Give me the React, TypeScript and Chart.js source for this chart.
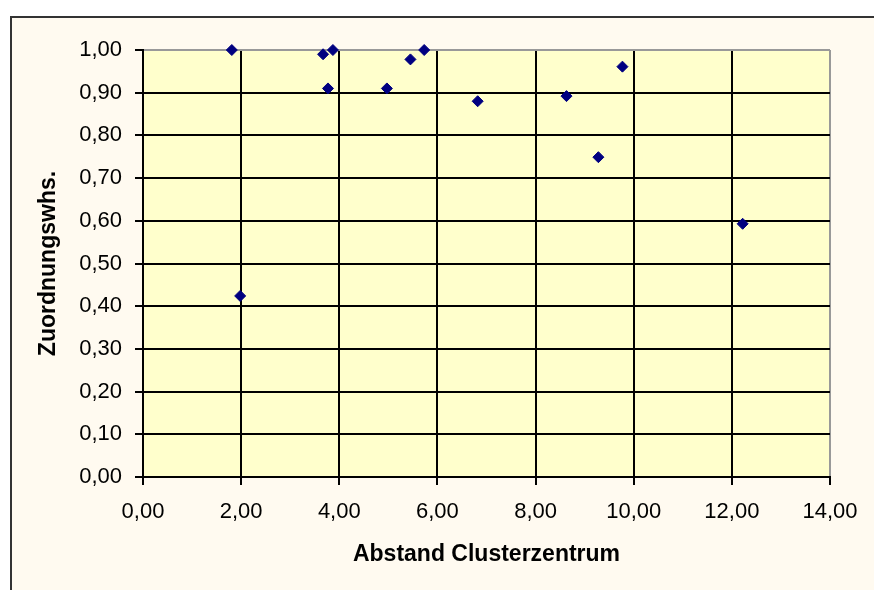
import React, { useEffect, useRef } from "react";
import { Chart, registerables } from "chart.js";

Chart.register(...registerables);

const distances = [1.81, 1.98, 3.67, 3.87, 3.77, 4.97, 5.45, 5.73, 6.82, 8.63, 9.28, 9.77, 12.22];
const probabilities = [1.0, 0.424, 0.99, 1.0, 0.91, 0.91, 0.978, 1.0, 0.88, 0.892, 0.749, 0.961, 0.593];
const xTitle = "Abstand Clusterzentrum";
const yTitle = "Zuordnungswhs.";

const fmt = (v: number) => v.toFixed(2).replace(".", ",");

const bgPlugin = {
  id: "bgPlugin",
  beforeDraw(chart: any) {
    const { ctx, width, height, chartArea } = chart;
    ctx.save();
    ctx.fillStyle = "#ffffff";
    ctx.fillRect(0, 0, width, height);
    ctx.fillStyle = "#FFFAF0";
    ctx.fillRect(11, 17, width, height);
    ctx.strokeStyle = "#333333";
    ctx.lineWidth = 2;
    ctx.beginPath();
    ctx.moveTo(11, height + 5);
    ctx.lineTo(11, 17);
    ctx.lineTo(width + 5, 17);
    ctx.stroke();
    ctx.fillStyle = "#FFFFCC";
    ctx.fillRect(chartArea.left, chartArea.top, chartArea.right - chartArea.left, chartArea.bottom - chartArea.top);
    ctx.restore();
  },
};

export default function App() {
  const ref = useRef<HTMLCanvasElement | null>(null);
  useEffect(() => {
    if (!ref.current) return;
    const font = { family: "'Liberation Sans', Arial, sans-serif", size: 22 };
    const titleFont = { family: "'Liberation Sans', Arial, sans-serif", size: 23, weight: "bold" as const };
    const chart = new Chart(ref.current, {
      type: "scatter",
      data: {
        datasets: [
          {
            data: distances.map((x, i) => ({ x, y: probabilities[i] })),
            pointStyle: "rectRot",
            pointRadius: 5.5,
            pointBorderWidth: 1,
            backgroundColor: "#000080",
            borderColor: "#000080",
            clip: false,
          },
        ],
      },
      options: {
        animation: false,
        responsive: false,
        layout: { padding: { top: 50, right: 44, left: 0, bottom: 0 } },
        plugins: { legend: { display: false }, tooltip: { enabled: false } },
        scales: {
          x: {
            type: "linear",
            min: 0,
            max: 14,
            afterFit: (s: any) => {
              s.height = 113;
            },
            ticks: { stepSize: 2, color: "#000", font, padding: 14, callback: (v: any) => fmt(Number(v)), maxRotation: 0 },
            grid: {
              color: (c: any) => (c.tick && c.tick.value === 14 ? "#999999" : "#000000"),
              lineWidth: 2,
              tickColor: "#000",
              tickLength: 8,
              tickWidth: 2,
            },
            border: { color: "#000", width: 2 },
            title: { display: true, text: xTitle, color: "#000", font: titleFont, padding: { top: 0, bottom: 22 } },
          },
          y: {
            type: "linear",
            min: 0,
            max: 1,
            afterFit: (s: any) => {
              s.width = 143;
            },
            ticks: { stepSize: 0.1, color: "#000", font, padding: 13, callback: (v: any) => fmt(Number(v)) },
            grid: {
              color: (c: any) => (c.tick && Math.abs(c.tick.value - 1) < 1e-9 ? "#999999" : "#000000"),
              lineWidth: 2,
              tickColor: "#000",
              tickLength: 8,
              tickWidth: 2,
            },
            border: { color: "#000", width: 2 },
            title: { display: true, text: yTitle, color: "#000", font: titleFont, padding: { top: 35, bottom: 0 } },
          },
        },
      },
      plugins: [bgPlugin],
    });
    return () => chart.destroy();
  }, []);
  return (
    <div style={{ position: "absolute", left: 0, top: 0, width: 874, height: 590 }}>
      <canvas ref={ref} width={874} height={590} style={{ display: "block", width: 874, height: 590 }} />
    </div>
  );
}
